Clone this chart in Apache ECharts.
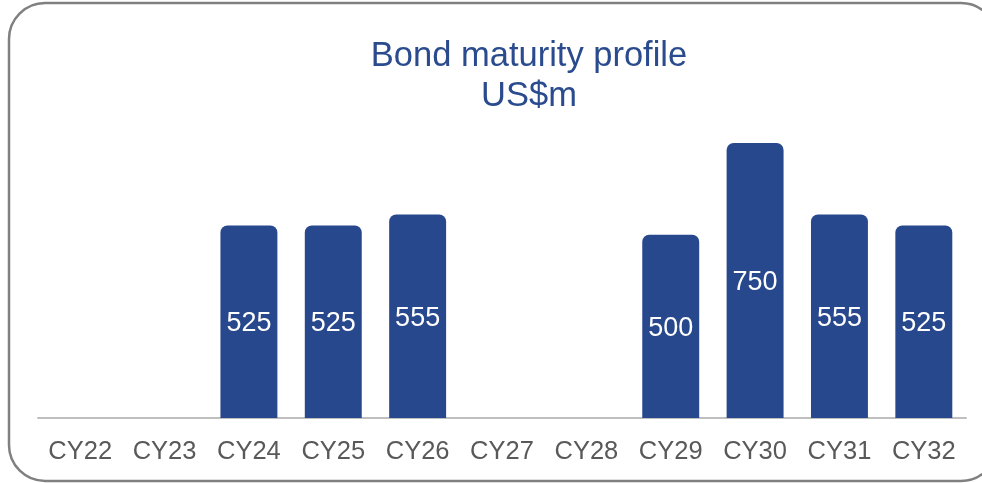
<!DOCTYPE html>
<html>
<head>
<meta charset="utf-8">
<script src="https://cdn.jsdelivr.net/npm/echarts@6/dist/echarts.min.js"></script>
<style>
  html, body { margin: 0; padding: 0; background: #ffffff; }
  #chart { width: 982px; height: 483px; }
</style>
</head>
<body>
<div id="chart"></div>
<script>
// Calendar years on the category axis
const categories = ['CY22', 'CY23', 'CY24', 'CY25', 'CY26', 'CY27', 'CY28', 'CY29', 'CY30', 'CY31', 'CY32'];
// Bonds maturing each year, US$m (no maturities in CY22, CY23, CY27, CY28)
const maturities = [null, null, 525, 525, 555, null, null, 500, 750, 555, 525];

const chart = echarts.init(document.getElementById('chart'), null, { renderer: 'canvas' });

chart.setOption({
  animation: false,
  backgroundColor: '#ffffff',
  title: {
    text: 'Bond maturity profile\nUS$m',
    left: 524,
    top: 31,
    textAlign: 'center',
    textStyle: {
      fontFamily: 'Liberation Sans, Arial, sans-serif',
      fontSize: 34.5,
      fontWeight: 'normal',
      color: '#2a4b8d',
      lineHeight: 40
    }
  },
  graphic: [{
    type: 'rect',
    shape: { x: 9, y: 3, width: 988, height: 478, r: 36 },
    style: { fill: 'none', stroke: '#808080', lineWidth: 2.5 },
    z: -1
  }],
  grid: { left: 38, right: 16, top: 143, bottom: 65 },
  xAxis: {
    type: 'category',
    data: categories,
    axisTick: { show: false },
    axisLine: { lineStyle: { color: '#bfbfbf', width: 2 } },
    axisLabel: {
      fontFamily: 'Liberation Sans, Arial, sans-serif',
      fontSize: 25.5,
      color: '#595959',
      margin: 21
    }
  },
  yAxis: {
    type: 'value',
    min: 0,
    max: 750,
    show: false,
    splitLine: { show: false }
  },
  series: [{
    type: 'bar',
    data: maturities,
    barWidth: '67.5%',
    itemStyle: { color: '#27488c', borderRadius: [7, 7, 0, 0] },
    label: {
      show: true,
      position: 'inside',
      offset: [0, 2],
      fontFamily: 'Liberation Sans, Arial, sans-serif',
      fontSize: 27,
      color: '#ffffff'
    }
  }]
});
</script>
</body>
</html>
